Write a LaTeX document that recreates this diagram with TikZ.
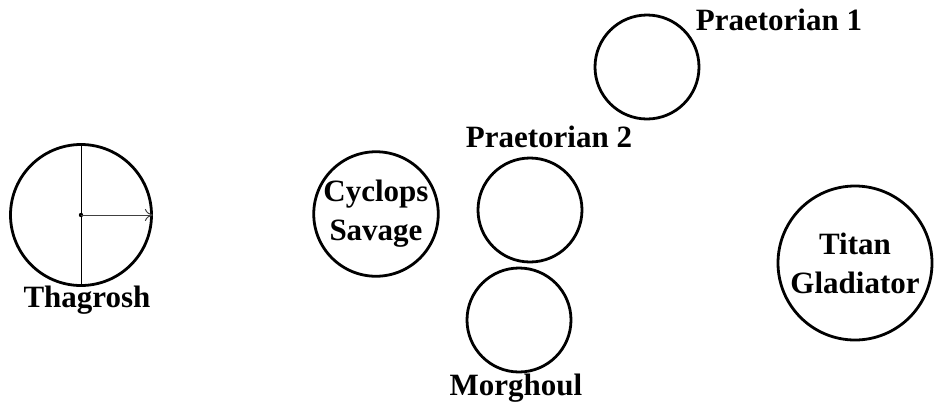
\documentclass[tikz,border=0pt]{standalone}
\usepackage{fontspec}
\setmainfont{Liberation Serif}
\usetikzlibrary{arrows.meta}
\begin{document}
\begin{tikzpicture}[x=1pt,y=-1pt,
  unit/.style={circle,draw,line width=2.8pt,inner sep=0pt,minimum size=#1,
    font=\bfseries\fontsize{31}{39}\selectfont,align=center},
  lab/.style={font=\bfseries\fontsize{31}{39}\selectfont,inner sep=0pt}]
\useasboundingbox (0,0) rectangle (952,418);
\node[unit=141pt] (thag) at (81,215) {};
\node[lab] (thaglab) at (87,300) {Thagrosh};
\draw[line width=1pt] (thag.north) -- (thag.south);
\fill (thag.center) circle (2.2pt);
\draw[line width=1pt,draw=black!75,-{To[length=8pt,width=12pt]}] (thag.center) -- (thag.east);
\node[unit=116pt] (cyc) at (376,214) {Cyclops\\Savage};
\node[unit=104pt] (p1) at (647,67) {};
\node[lab] (p1lab) at (779,20) {Praetorian 1};
\node[unit=104pt] (p2) at (530,210) {};
\node[lab] (p2lab) at (549,137) {Praetorian 2};
\node[unit=104pt] (mor) at (519,320) {};
\node[lab] (morlab) at (516,388) {Morghoul};
\node[unit=154pt] (titan) at (855,263) {Titan\\Gladiator};
\end{tikzpicture}
\end{document}
